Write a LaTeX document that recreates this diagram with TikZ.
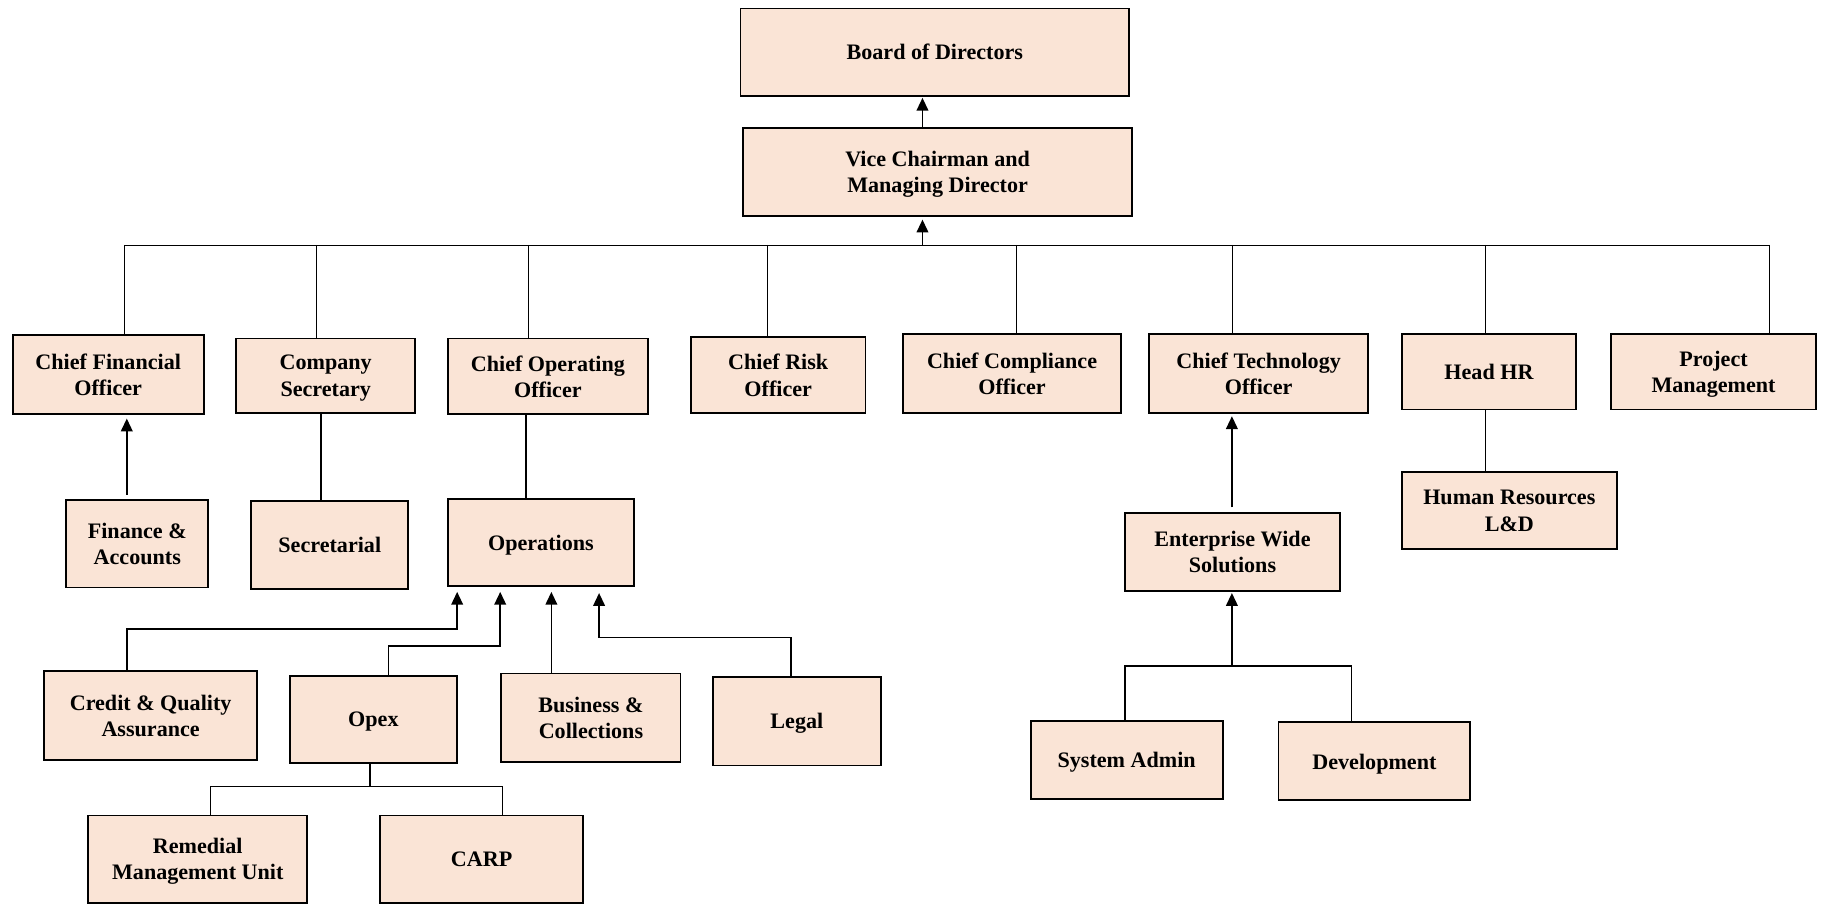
\documentclass[tikz,border=0pt]{standalone}
\usepackage{fontspec}
\setmainfont{Liberation Serif}
\usepackage{xcolor}
\usetikzlibrary{arrows.meta,calc}
\definecolor{boxfill}{RGB}{250,228,214}
\tikzset{
  box/.style={draw,line width=1.6pt,fill=boxfill,align=center,inner sep=2pt,text depth=0pt,
    font=\bfseries\fontsize{19}{22.5}\selectfont},
  link/.style={line width=0.7pt},
  midlink/.style={line width=1.2pt},
  upline/.style={line width=1.5pt,-{Triangle[length=11pt,width=10pt]}},
}
\begin{document}
\begin{tikzpicture}[x=1pt,y=-1pt]
    \useasboundingbox (0,0) rectangle (1568,777);

    %nodes

    \node [box,minimum width=334pt,minimum height=75pt] (board) at (803.6,44.8) {Board of Directors};
    \node [box,minimum width=334pt,minimum height=76pt] (vcmd) at (806,148) {Vice Chairman and\\Managing Director};

    \node [box,minimum width=164pt,minimum height=68pt] (cfo) at (93,322) {Chief Financial\\Officer};
    \node [box,minimum width=154pt,minimum height=64pt] (cs) at (280,323) {Company\\Secretary};
    \node [box,minimum width=172pt,minimum height=65pt] (coo) at (471,323.5) {Chief Operating\\Officer};
    \node [box,minimum width=150pt,minimum height=65pt] (cro) at (669,322.5) {Chief Risk\\Officer};
    \node [box,minimum width=188pt,minimum height=68pt] (cco) at (870,321) {Chief Compliance\\Officer};
    \node [box,minimum width=188pt,minimum height=68pt] (cto) at (1082,321) {Chief Technology\\Officer};
    \node [box,minimum width=150pt,minimum height=65pt] (hr) at (1280,319.5) {Head HR};
    \node [box,minimum width=176pt,minimum height=65pt] (pm) at (1473,319.5) {Project\\Management};

    \node [box,minimum width=122pt,minimum height=75pt] (fa) at (118,467.5) {Finance \&\\Accounts};
    \node [box,minimum width=135pt,minimum height=75pt] (sec) at (283.5,468.5) {Secretarial};
    \node [box,minimum width=160pt,minimum height=75pt] (ops) at (465,466.5) {Operations};
    \node [box,minimum width=185pt,minimum height=67pt] (ews) at (1059.5,474.5) {Enterprise Wide\\Solutions};
    \node [box,minimum width=185pt,minimum height=66pt] (hrld) at (1297.5,439) {Human Resources\\L\&D};

    \node [box,minimum width=183pt,minimum height=76pt] (cqa) at (129.5,615) {Credit \& Quality\\Assurance};
    \node [box,minimum width=144pt,minimum height=75pt] (opex) at (321,618.5) {Opex};
    \node [box,minimum width=154pt,minimum height=76pt] (bc) at (508,617) {Business \&\\Collections};
    \node [box,minimum width=144pt,minimum height=76pt] (legal) at (685,620) {Legal};

    \node [box,minimum width=188pt,minimum height=75pt] (rmu) at (170,738.5) {Remedial\\Management Unit};
    \node [box,minimum width=174pt,minimum height=75pt] (carp) at (414,738.5) {CARP};
    \node [box,minimum width=165pt,minimum height=67pt] (sysadm) at (968.5,653.5) {System Admin};
    \node [box,minimum width=165pt,minimum height=67pt] (dev) at (1181.5,654.5) {Development};

    %junctions

    \coordinate (top) at (793,100);
    \coordinate (bus) at (793,210.6);
    \coordinate (busl) at (107,210.6);
    \coordinate (busr) at (1521,210.6);
    \coordinate (dcs) at (272,210.6);
    \coordinate (dcoo) at (454,210.6);
    \coordinate (dcro) at (660,210.6);
    \coordinate (dcco) at (874,210.6);
    \coordinate (dcto) at (1059,210.6);
    \coordinate (dhr) at (1277,210.6);

    \coordinate (jfa) at (109,400);
    \coordinate (jsec) at (276,400);
    \coordinate (jops) at (452,400);
    \coordinate (jhr) at (1277,400);

    \coordinate (jcqa) at (109,541);
    \coordinate (kcqa) at (393,541);
    \coordinate (jopex) at (334,555.5);
    \coordinate (kopex) at (430,555.5);
    \coordinate (kbc) at (474,580);
    \coordinate (jlegal) at (680,548);
    \coordinate (klegal) at (515,548);

    \coordinate (jsub) at (318,676);
    \coordinate (jrmu) at (181,676);
    \coordinate (jcarp) at (432,676);

    \coordinate (jews) at (1059,572.5);
    \coordinate (jsys) at (967,572.5);
    \coordinate (jdev) at (1162,572.5);

    %top
    \draw [upline,shorten >=1pt] (vcmd.north -| top) -- (top |- board.south);
    \draw [upline,shorten >=2pt] (bus) -- (bus |- vcmd.south);
    \draw [link] (busl) -- (busr);
    \draw [link] (busl) -- (busl |- cfo.north);
    \draw [link] (dcs) -- (dcs |- cs.north);
    \draw [link] (dcoo) -- (dcoo |- coo.north);
    \draw [link] (dcro) -- (dcro |- cro.north);
    \draw [link] (dcco) -- (dcco |- cco.north);
    \draw [link] (dcto) -- (dcto |- cto.north);
    \draw [link] (dhr) -- (dhr |- hr.north);
    \draw [link] (busr) -- (busr |- pm.north);

    %second row
    \draw [upline,shorten <=4pt,shorten >=3pt] (fa.north -| jfa) -- (jfa |- cfo.south);
    \draw [midlink] (cs.south -| jsec) -- (jsec |- sec.north);
    \draw [midlink] (coo.south -| jops) -- (jops |- ops.north);
    \draw [link] (hr.south -| jhr) -- (jhr |- hrld.north);
    \draw [upline,shorten <=4pt,shorten >=2pt] (ews.north -| jews) -- (jews |- cto.south);

    %operations
    \draw [upline,shorten >=4pt] (cqa.north -| jcqa) |- (kcqa) -- (kcqa |- ops.south);
    \draw [upline,shorten >=4pt] (opex.north -| jopex) |- (kopex) -- (kopex |- ops.south);
    \draw [upline,shorten >=4pt] (bc.north -| kbc) -- (kbc |- ops.south);
    \draw [upline,shorten >=5pt] (legal.north -| jlegal) |- (klegal) -- (klegal |- ops.south);

    \draw [midlink] (opex.south -| jsub) -- (jsub);
    \draw [midlink] (jrmu) -- (jcarp);
    \draw [link] (jrmu) -- (jrmu |- rmu.north);
    \draw [link] (jcarp) -- (jcarp |- carp.north);

    %technology
    \draw [midlink] (sysadm.north -| jsys) |- (jdev) -- (jdev |- dev.north);
    \draw [upline,shorten >=1pt] (jews) -- (jews |- ews.south);
\end{tikzpicture}
\end{document}
